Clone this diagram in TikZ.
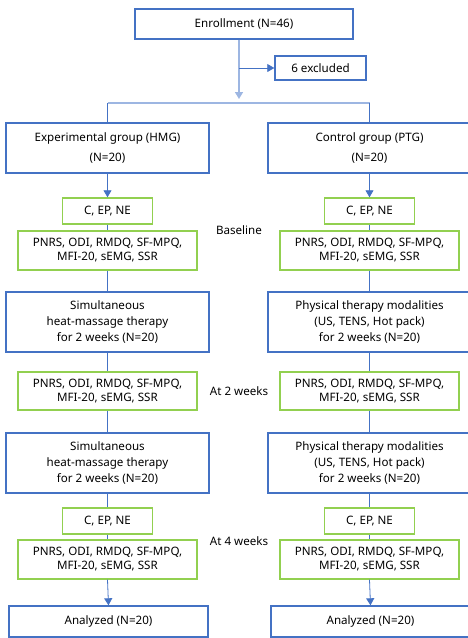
\documentclass[tikz,border=0pt]{standalone}
\usepackage{fontspec}
\setmainfont{Noto Sans}
\usetikzlibrary{arrows.meta}
\definecolor{bblue}{HTML}{4472C4}
\definecolor{lblue}{HTML}{9DB6E2}
\definecolor{ggreen}{HTML}{92D050}
\tikzset{
  base/.style={inner sep=0pt, align=center, font=\fontsize{11.6}{16}\selectfont, text=black},
  bbox/.style={base, draw=bblue, line width=1.4pt, fill=white},
  gbox/.style={base, draw=ggreen, line width=1.4pt, fill=white, font=\fontsize{11.6}{14}\selectfont},
  conn/.style={draw=bblue, line width=0.8pt},
  arr/.style={conn, -{Triangle[width=8pt,length=7pt]}},
  lbl/.style={base}
}
\begin{document}
\begin{tikzpicture}[x=1pt,y=-1pt]
\useasboundingbox (0,0) rectangle (468,638);
\begin{scope}
\clip (0,0) rectangle (468,638);
% top
\node[bbox, minimum width=218, minimum height=30] (enroll) at (244,24) {Enrollment (N=46)};
\node[bbox, minimum width=91, minimum height=24] (excl) at (320.5,68) {6 excluded};
\coordinate (split) at (239,103);
\coordinate (branch) at (239,68);
\coordinate (splitL) at (107.5,103);
\coordinate (splitR) at (369.5,103);
\draw[draw=lblue, line width=1.6pt, -{Triangle[width=8pt,length=7pt]}] (enroll.south -| split) -- (239,99);
\draw[arr] (branch) -- (excl.west);
\draw[draw=lblue, line width=1.2pt] (splitL) -- (splitR);
% groups
\node[bbox, minimum width=203, minimum height=50] (exp) at (107.5,148) {Experimental group (HMG)\\[4pt](N=20)};
\node[bbox, minimum width=203, minimum height=50] (ctl) at (369.5,148) {Control group (PTG)\\[4pt](N=20)};
\draw[conn] (splitL) -- (exp.north);
\draw[conn] (splitR) -- (ctl.north);
% baseline
\node[gbox, minimum width=90, minimum height=26] (ce1L) at (107.5,211) {C, EP, NE};
\node[gbox, minimum width=90, minimum height=26] (ce1R) at (369.5,211) {C, EP, NE};
\node[gbox, minimum width=179, minimum height=39] (p1L) at (107.5,250.5) {PNRS, ODI, RMDQ, SF-MPQ,\\MFI-20, sEMG, SSR};
\node[gbox, minimum width=179, minimum height=39] (p1R) at (369.5,250.5) {PNRS, ODI, RMDQ, SF-MPQ,\\MFI-20, sEMG, SSR};
\node[lbl] (bl) at (239,230) {Baseline};
\draw[arr] (exp.south) -- (ce1L.north);
\draw[arr] (ctl.south) -- (ce1R.north);
\draw[conn] (ce1L.south) -- (p1L.north);
\draw[conn] (ce1R.south) -- (p1R.north);
% therapy 1
\node[bbox, minimum width=203, minimum height=60] (t1L) at (107.5,322) {Simultaneous\\heat-massage therapy\\for 2 weeks (N=20)};
\node[bbox, minimum width=203, minimum height=60] (t1R) at (369.5,322) {Physical therapy modalities\\(US, TENS, Hot pack)\\for 2 weeks (N=20)};
\draw[conn] (p1L.south) -- (t1L.north);
\draw[conn] (p1R.south) -- (t1R.north);
% 2 weeks
\node[gbox, minimum width=179, minimum height=38] (p2L) at (107.5,391) {PNRS, ODI, RMDQ, SF-MPQ,\\MFI-20, sEMG, SSR};
\node[gbox, minimum width=179, minimum height=38] (p2R) at (369.5,391) {PNRS, ODI, RMDQ, SF-MPQ,\\MFI-20, sEMG, SSR};
\node[lbl] (w2) at (239,391) {At 2 weeks};
\draw[conn] (t1L.south) -- (p2L.north);
\draw[conn] (t1R.south) -- (p2R.north);
% therapy 2
\node[bbox, minimum width=203, minimum height=60] (t2L) at (107.5,463) {Simultaneous\\heat-massage therapy\\for 2 weeks (N=20)};
\node[bbox, minimum width=203, minimum height=60] (t2R) at (369.5,463) {Physical therapy modalities\\(US, TENS, Hot pack)\\for 2 weeks (N=20)};
\draw[conn] (p2L.south) -- (t2L.north);
\draw[conn] (p2R.south) -- (t2R.north);
% 4 weeks
\node[gbox, minimum width=90, minimum height=26] (ce2L) at (107.5,521) {C, EP, NE};
\node[gbox, minimum width=90, minimum height=26] (ce2R) at (369.5,521) {C, EP, NE};
\node[gbox, minimum width=179, minimum height=39] (p3L) at (107.5,559.5) {PNRS, ODI, RMDQ, SF-MPQ,\\MFI-20, sEMG, SSR};
\node[gbox, minimum width=179, minimum height=39] (p3R) at (369.5,559.5) {PNRS, ODI, RMDQ, SF-MPQ,\\MFI-20, sEMG, SSR};
\node[lbl] (w4) at (239,541) {At 4 weeks};
\draw[conn] (t2L.south) -- (ce2L.north);
\draw[conn] (t2R.south) -- (ce2R.north);
\draw[conn] (ce2L.south) -- (p3L.north);
\draw[conn] (ce2R.south) -- (p3R.north);
% analyzed
\node[bbox, minimum width=199, minimum height=31] (anL) at (108.5,621.5) {Analyzed (N=20)};
\node[bbox, minimum width=199, minimum height=31] (anR) at (370.5,621.5) {Analyzed (N=20)};
\draw[arr] (p3L.south) -- (anL.north);
\draw[arr] (p3R.south) -- (anR.north);
\end{scope}
\end{tikzpicture}
\end{document}
